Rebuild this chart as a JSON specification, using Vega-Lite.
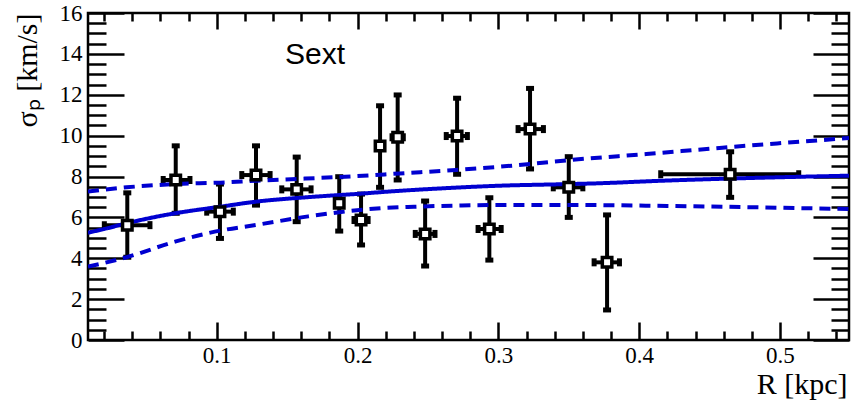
{
  "$schema": "https://vega.github.io/schema/vega-lite/v6.json",
  "width": 761,
  "height": 327,
  "autosize": {"type": "none"},
  "padding": {"left": 88, "top": 13, "right": 3, "bottom": 61},
  "background": "white",
  "config": {
    "view": {"stroke": "black", "strokeWidth": 2.5},
    "axis": {"grid": false, "domain": false, "labelColor": "black", "titleColor": "black", "tickColor": "black", "tickWidth": 2.5}
  },
  "datasets": {
    "pts": [
      {"x": 0.0365, "y": 5.62, "ylo": 4.05, "yhi": 7.2, "xlo": 0.0202, "xhi": 0.0526},
      {"x": 0.0709, "y": 7.83, "ylo": 6.2, "yhi": 9.5, "xlo": 0.062, "xhi": 0.081},
      {"x": 0.1023, "y": 6.28, "ylo": 4.97, "yhi": 7.63, "xlo": 0.0929, "xhi": 0.1118},
      {"x": 0.1279, "y": 8.07, "ylo": 6.6, "yhi": 9.5, "xlo": 0.1178, "xhi": 0.1379},
      {"x": 0.1568, "y": 7.37, "ylo": 5.79, "yhi": 8.95, "xlo": 0.1462, "xhi": 0.167},
      {"x": 0.187, "y": 6.69, "ylo": 5.33, "yhi": 7.99, "xlo": null, "xhi": null},
      {"x": 0.2025, "y": 5.87, "ylo": 4.65, "yhi": 7.14, "xlo": 0.1975, "xhi": 0.2075},
      {"x": 0.216, "y": 9.49, "ylo": 7.47, "yhi": 11.46, "xlo": null, "xhi": null},
      {"x": 0.2285, "y": 9.92, "ylo": 7.83, "yhi": 11.99, "xlo": 0.2245, "xhi": 0.2325},
      {"x": 0.248, "y": 5.19, "ylo": 3.62, "yhi": 6.8, "xlo": 0.241, "xhi": 0.255},
      {"x": 0.2707, "y": 9.98, "ylo": 8.11, "yhi": 11.83, "xlo": 0.263, "xhi": 0.278},
      {"x": 0.2936, "y": 5.43, "ylo": 3.91, "yhi": 6.96, "xlo": 0.2856, "xhi": 0.302},
      {"x": 0.3225, "y": 10.32, "ylo": 8.37, "yhi": 12.31, "xlo": 0.314, "xhi": 0.332},
      {"x": 0.35, "y": 7.47, "ylo": 6.0, "yhi": 8.97, "xlo": 0.339, "xhi": 0.36},
      {"x": 0.3772, "y": 3.8, "ylo": 1.47, "yhi": 6.12, "xlo": 0.368, "xhi": 0.386},
      {"x": 0.4646, "y": 8.11, "ylo": 6.98, "yhi": 9.21, "xlo": 0.4153, "xhi": 0.5133}
    ],
    "curves": [
      {"r": 0.0086, "v": 5.25, "s": "fit"}, {"r": 0.02, "v": 5.43, "s": "fit"}, {"r": 0.036, "v": 5.71, "s": "fit"},
      {"r": 0.05, "v": 5.93, "s": "fit"}, {"r": 0.0704, "v": 6.2, "s": "fit"}, {"r": 0.1024, "v": 6.52, "s": "fit"},
      {"r": 0.128, "v": 6.77, "s": "fit"}, {"r": 0.163, "v": 6.98, "s": "fit"}, {"r": 0.2, "v": 7.15, "s": "fit"},
      {"r": 0.23, "v": 7.3, "s": "fit"}, {"r": 0.26, "v": 7.42, "s": "fit"}, {"r": 0.301, "v": 7.55, "s": "fit"},
      {"r": 0.344, "v": 7.62, "s": "fit"}, {"r": 0.372, "v": 7.67, "s": "fit"}, {"r": 0.415, "v": 7.79, "s": "fit"},
      {"r": 0.465, "v": 7.9, "s": "fit"}, {"r": 0.51, "v": 7.98, "s": "fit"}, {"r": 0.549, "v": 8.04, "s": "fit"},
      {"r": 0.0086, "v": 7.26, "s": "up"}, {"r": 0.036, "v": 7.47, "s": "up"}, {"r": 0.0704, "v": 7.63, "s": "up"},
      {"r": 0.1024, "v": 7.7, "s": "up"}, {"r": 0.128, "v": 7.79, "s": "up"}, {"r": 0.163, "v": 7.9, "s": "up"},
      {"r": 0.2, "v": 8.02, "s": "up"}, {"r": 0.23, "v": 8.15, "s": "up"}, {"r": 0.27, "v": 8.32, "s": "up"},
      {"r": 0.301, "v": 8.48, "s": "up"}, {"r": 0.327, "v": 8.64, "s": "up"}, {"r": 0.352, "v": 8.81, "s": "up"},
      {"r": 0.405, "v": 9.1, "s": "up"}, {"r": 0.459, "v": 9.41, "s": "up"}, {"r": 0.498, "v": 9.62, "s": "up"},
      {"r": 0.549, "v": 9.88, "s": "up"},
      {"r": 0.0086, "v": 3.59, "s": "lo"}, {"r": 0.036, "v": 4.05, "s": "lo"}, {"r": 0.0704, "v": 4.81, "s": "lo"},
      {"r": 0.1024, "v": 5.35, "s": "lo"}, {"r": 0.128, "v": 5.63, "s": "lo"}, {"r": 0.165, "v": 6.05, "s": "lo"},
      {"r": 0.187, "v": 6.25, "s": "lo"}, {"r": 0.211, "v": 6.42, "s": "lo"}, {"r": 0.24, "v": 6.52, "s": "lo"},
      {"r": 0.274, "v": 6.58, "s": "lo"}, {"r": 0.32, "v": 6.61, "s": "lo"}, {"r": 0.372, "v": 6.6, "s": "lo"},
      {"r": 0.42, "v": 6.56, "s": "lo"}, {"r": 0.46, "v": 6.52, "s": "lo"}, {"r": 0.5, "v": 6.47, "s": "lo"},
      {"r": 0.549, "v": 6.41, "s": "lo"}
    ],
    "label": [{"t": "Sext"}]
  },
  "resolve": {"axis": {"x": "independent", "y": "independent"}},
  "layer": [
    {
      "data": {"name": "pts"},
      "mark": {"type": "rule", "color": "black", "strokeWidth": 4},
      "encoding": {
        "x": {"field": "x", "type": "quantitative",
              "scale": {"domain": [0.0086, 0.549], "nice": false, "zero": false},
              "axis": {"orient": "bottom", "values": [0.1, 0.2, 0.3, 0.4, 0.5], "ticks": false, "labelFont": "Liberation Serif, Times New Roman, serif", "labelFontSize": 23, "labelPadding": 4, "labelFlush": false, "labelOverlap": false,
                       "title": "R [kpc]", "titleFont": "Liberation Serif, Times New Roman, serif", "titleFontSize": 30, "titleFontWeight": "normal", "titleAnchor": "end", "titleAlign": "right", "titleBaseline": "alphabetic", "titleX": 759, "titleY": 53}},
        "y": {"field": "ylo", "type": "quantitative",
              "scale": {"domain": [0, 16], "nice": false, "zero": false},
              "axis": {"orient": "left", "values": [0, 2, 4, 6, 8, 10, 12, 14, 16], "ticks": false, "labelFont": "Liberation Serif, Times New Roman, serif", "labelFontSize": 23, "labelPadding": 6, "labelFlush": false, "labelOverlap": false,
                       "title": "σₚ [km/s]", "titleFont": "Liberation Serif, Times New Roman, serif", "titleFontSize": 30, "titleFontWeight": "normal", "titleAngle": -90, "titleAnchor": "end", "titleAlign": "right", "titleBaseline": "alphabetic", "titleX": -52, "titleY": 0}},
        "y2": {"field": "yhi"}
      }
    },
    {
      "data": {"name": "pts"},
      "transform": [{"filter": "isValid(datum.xlo)"}],
      "mark": {"type": "rule", "color": "black", "strokeWidth": 4},
      "encoding": {
        "x": {"field": "xlo", "type": "quantitative",
              "axis": {"orient": "bottom", "values": [0.1, 0.2, 0.3, 0.4, 0.5], "labels": false, "title": null, "tickSize": -18}},
        "x2": {"field": "xhi"},
        "y": {"field": "y", "type": "quantitative",
              "axis": {"orient": "left", "values": [0, 2, 4, 6, 8, 10, 12, 14, 16], "labels": false, "title": null, "tickSize": -36}}
      }
    },
    {
      "data": {"name": "pts"},
      "transform": [{"fold": ["ylo", "yhi"], "as": ["k", "v"]}],
      "mark": {"type": "tick", "color": "black", "orient": "horizontal", "size": 8, "thickness": 5, "opacity": 1},
      "encoding": {
        "x": {"field": "x", "type": "quantitative",
              "axis": {"orient": "bottom", "values": [0.02, 0.04, 0.06, 0.08, 0.12, 0.14, 0.16, 0.18, 0.22, 0.24, 0.26, 0.28, 0.32, 0.34, 0.36, 0.38, 0.42, 0.44, 0.46, 0.48, 0.52, 0.54], "labels": false, "title": null, "tickSize": -9}},
        "y": {"field": "v", "type": "quantitative",
              "axis": {"orient": "left", "values": [0.5, 1, 1.5, 2.5, 3, 3.5, 4.5, 5, 5.5, 6.5, 7, 7.5, 8.5, 9, 9.5, 10.5, 11, 11.5, 12.5, 13, 13.5, 14.5, 15, 15.5], "labels": false, "title": null, "tickSize": -18}}
      }
    },
    {
      "data": {"name": "pts"},
      "transform": [{"filter": "isValid(datum.xlo)"}, {"fold": ["xlo", "xhi"], "as": ["k", "v"]}],
      "mark": {"type": "tick", "color": "black", "orient": "vertical", "size": 8, "thickness": 5, "opacity": 1},
      "encoding": {
        "x": {"field": "v", "type": "quantitative",
              "axis": {"orient": "top", "values": [0.1, 0.2, 0.3, 0.4, 0.5], "labels": false, "title": null, "tickSize": -16}},
        "y": {"field": "y", "type": "quantitative",
              "axis": {"orient": "right", "values": [0, 2, 4, 6, 8, 10, 12, 14, 16], "labels": false, "title": null, "tickSize": -36}}
      }
    },
    {
      "data": {"name": "curves"},
      "mark": {"type": "line", "color": "#0000d0", "strokeWidth": 4, "interpolate": "monotone", "clip": true},
      "encoding": {
        "x": {"field": "r", "type": "quantitative",
              "axis": {"orient": "top", "values": [0.02, 0.04, 0.06, 0.08, 0.12, 0.14, 0.16, 0.18, 0.22, 0.24, 0.26, 0.28, 0.32, 0.34, 0.36, 0.38, 0.42, 0.44, 0.46, 0.48, 0.52, 0.54], "labels": false, "title": null, "tickSize": -8}},
        "y": {"field": "v", "type": "quantitative",
              "axis": {"orient": "right", "values": [0.5, 1, 1.5, 2.5, 3, 3.5, 4.5, 5, 5.5, 6.5, 7, 7.5, 8.5, 9, 9.5, 10.5, 11, 11.5, 12.5, 13, 13.5, 14.5, 15, 15.5], "labels": false, "title": null, "tickSize": -18}},
        "detail": {"field": "s"},
        "strokeDash": {"field": "s", "type": "nominal", "scale": {"domain": ["fit", "up", "lo"], "range": [[1, 0], [11, 7], [11, 7]]}, "legend": null}
      }
    },
    {
      "data": {"name": "pts"},
      "mark": {"type": "point", "shape": "square", "filled": false, "fill": "white", "fillOpacity": 1, "stroke": "black", "strokeWidth": 3.5, "size": 90, "opacity": 1},
      "encoding": {
        "x": {"field": "x", "type": "quantitative", "axis": null},
        "y": {"field": "y", "type": "quantitative", "axis": null}
      }
    },
    {
      "data": {"name": "label"},
      "mark": {"type": "text", "font": "Liberation Sans, Arial, sans-serif", "fontSize": 30, "align": "center", "baseline": "alphabetic", "color": "black"},
      "encoding": {
        "x": {"datum": 0.1698, "type": "quantitative", "axis": null},
        "y": {"datum": 13.49, "type": "quantitative", "axis": null},
        "text": {"field": "t"}
      }
    }
  ]
}
